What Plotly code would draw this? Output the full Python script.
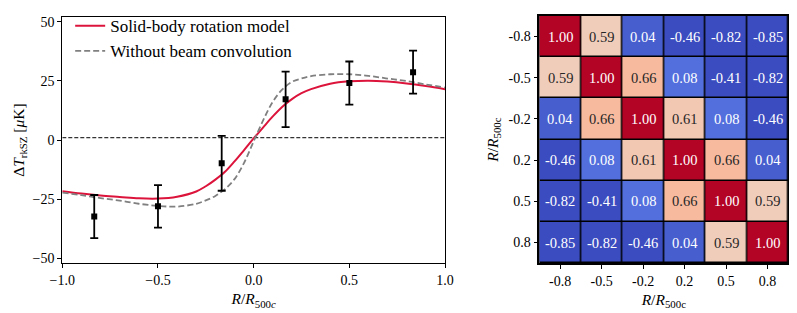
import plotly.graph_objects as go

# ---------------- data ----------------
# measured points
r_bins = [-0.833, -0.5, -0.167, 0.167, 0.5, 0.833]
dT_obs = [-32.3, -28.0, -9.8, 17.2, 24.1, 28.7]
dT_err = [9.1, 9.0, 11.6, 11.7, 9.1, 9.1]

# model curves
x_model = [-1.0, -0.9, -0.8, -0.7, -0.6, -0.5, -0.4, -0.3, -0.25, -0.2, -0.15, -0.1, -0.05,
           0.0, 0.05, 0.1, 0.15, 0.2, 0.25, 0.3, 0.4, 0.5, 0.6, 0.7, 0.8, 0.9, 1.0]
y_solid = [-21.6, -22.6, -23.4, -24.0, -24.6, -24.7, -23.9, -21.7, -19.5, -16.7, -13.4, -9.0, -4.2,
           0.7, 5.4, 10.0, 14.1, 17.3, 19.8, 21.5, 23.8, 24.8, 25.1, 24.7, 23.9, 22.8, 21.5]
y_nobeam = [-22.2, -23.3, -24.5, -25.6, -26.9, -27.8, -28.1, -26.9, -25.5, -23.6, -20.7, -16.5, -9.6,
            -0.5, 8.4, 16.2, 21.4, 24.6, 26.0, 27.0, 27.8, 27.8, 27.1, 26.0, 24.9, 23.5, 22.2]
h_level = 1.0

# correlation matrix
corr_labels = ["-0.8", "-0.5", "-0.2", "0.2", "0.5", "0.8"]
corr = [
    [1.00, 0.59, 0.04, -0.46, -0.82, -0.85],
    [0.59, 1.00, 0.66, 0.08, -0.41, -0.82],
    [0.04, 0.66, 1.00, 0.61, 0.08, -0.46],
    [-0.46, 0.08, 0.61, 1.00, 0.66, 0.04],
    [-0.82, -0.41, 0.08, 0.66, 1.00, 0.59],
    [-0.85, -0.82, -0.46, 0.04, 0.59, 1.00],
]

left_xticks = [-1.0, -0.5, 0.0, 0.5, 1.0]
left_yticks = [-50, -25, 0, 25, 50]

# ---------------- style ----------------
FONT = "Liberation Serif"
coolwarm_rgb = [
    (59, 76, 192), (68, 90, 204), (77, 104, 215), (87, 117, 225), (98, 130, 234),
    (108, 142, 241), (119, 154, 247), (130, 165, 251), (141, 176, 254), (152, 185, 255),
    (163, 194, 255), (174, 201, 253), (184, 208, 249), (194, 213, 244), (204, 217, 238),
    (213, 219, 230), (221, 221, 221), (229, 216, 209), (236, 211, 197), (241, 204, 185),
    (245, 196, 173), (247, 187, 160), (247, 177, 148), (247, 166, 135), (244, 154, 123),
    (241, 141, 111), (236, 127, 99), (229, 112, 88), (222, 96, 77), (213, 80, 66),
    (203, 62, 56), (192, 40, 47), (180, 4, 38)]
n = len(coolwarm_rgb) - 1
coolwarm = [[i / n, "rgb(%d,%d,%d)" % c] for i, c in enumerate(coolwarm_rgb)]

idx = list(range(len(corr_labels)))

# the page body adds an 8px margin, so the figure is 8px smaller than the window
W, H = 789, 305

fig = go.Figure()

# left panel
fig.add_trace(go.Scatter(x=[-1, 1], y=[h_level, h_level], mode="lines",
                         line=dict(color="black", width=1, dash="4px,2px"),
                         showlegend=False, hoverinfo="skip", xaxis="x", yaxis="y"))
fig.add_trace(go.Scatter(x=x_model, y=y_solid, mode="lines", line_shape="spline",
                         name="Solid-body rotation model",
                         line=dict(color="#DC143C", width=2), xaxis="x", yaxis="y"))
fig.add_trace(go.Scatter(x=x_model, y=y_nobeam, mode="lines", line_shape="spline",
                         name="Without beam convolution",
                         line=dict(color="gray", width=1.8, dash="6px,3px"), xaxis="x", yaxis="y"))
fig.add_trace(go.Scatter(x=r_bins, y=dT_obs, mode="markers", showlegend=False,
                         marker=dict(symbol="square", size=6, color="black"),
                         error_y=dict(type="data", array=dT_err, color="black",
                                      thickness=1.8, width=4),
                         xaxis="x", yaxis="y"))

# right panel: heatmap (numeric cell indices, labelled with the bin names)
fig.add_trace(go.Heatmap(z=corr, x=idx, y=idx, colorscale=coolwarm,
                         zmin=0, zmax=1, showscale=False, xgap=1.5, ygap=1.5,
                         xaxis="x2", yaxis="y2", hoverinfo="z"))

annotations = []
for i, row in enumerate(corr):
    for j, v in enumerate(row):
        dark = 0.3 < v < 0.9
        annotations.append(dict(x=idx[j], y=idx[i], xref="x2", yref="y2",
                                text="%.2f" % v, showarrow=False,
                                font=dict(family=FONT, size=14.5,
                                          color="#262626" if dark else "white")))

axis_common = dict(showgrid=False, zeroline=False, showline=True, mirror=True,
                   linecolor="black", linewidth=1, ticks="outside", ticklen=4,
                   tickwidth=1, tickcolor="black", automargin=False,
                   tickfont=dict(family=FONT, size=14, color="black"))

y_dom = [0.1672, 0.9934]

fig.update_layout(
    width=W, height=H,
    margin=dict(l=0, r=0, t=0, b=0),
    paper_bgcolor="white", plot_bgcolor="white",
    font=dict(family=FONT, color="black"),
    xaxis=dict(domain=[0.0688, 0.5539], range=[-1, 1], tickvals=left_xticks,
               tickformat=".1f", anchor="y",
               title=dict(text="<i>R</i>/<i>R</i><sub>500<i>c</i></sub>",
                          font=dict(family=FONT, size=15.5), standoff=6),
               **axis_common),
    yaxis=dict(domain=y_dom, range=[-52, 52], tickvals=left_yticks, anchor="x",
               title=dict(text="Δ<i>T</i><sub>rkSZ</sub> [<i>μ</i>K]",
                          font=dict(family=FONT, size=15.5), standoff=4),
               **axis_common),
    xaxis2=dict(domain=[0.6734, 0.9890], anchor="y2", range=[-0.5, 5.5],
                tickvals=idx, ticktext=corr_labels,
                title=dict(text="<i>R</i>/<i>R</i><sub>500c</sub>",
                           font=dict(family=FONT, size=15.5), standoff=6),
                **{**axis_common, "linewidth": 1.5}),
    yaxis2=dict(domain=[0.1672, 0.9967], anchor="x2", range=[5.5, -0.5],
                tickvals=idx, ticktext=corr_labels,
                title=dict(text="<i>R</i>/<i>R</i><sub>500c</sub>",
                           font=dict(family=FONT, size=15.5), standoff=6),
                **{**axis_common, "linewidth": 1.5}),
    legend=dict(x=0.0788, y=1.023, xanchor="left", yanchor="top",
                bgcolor="rgba(255,255,255,0)", font=dict(family=FONT, size=17),
                tracegroupgap=0, itemwidth=30),
    annotations=annotations,
    shapes=[dict(type="rect", xref="x2 domain", yref="y2 domain", x0=0, x1=1, y0=0, y1=1,
                 fillcolor="black", line=dict(width=0), layer="below")],
)

fig.write_html("out.html")
